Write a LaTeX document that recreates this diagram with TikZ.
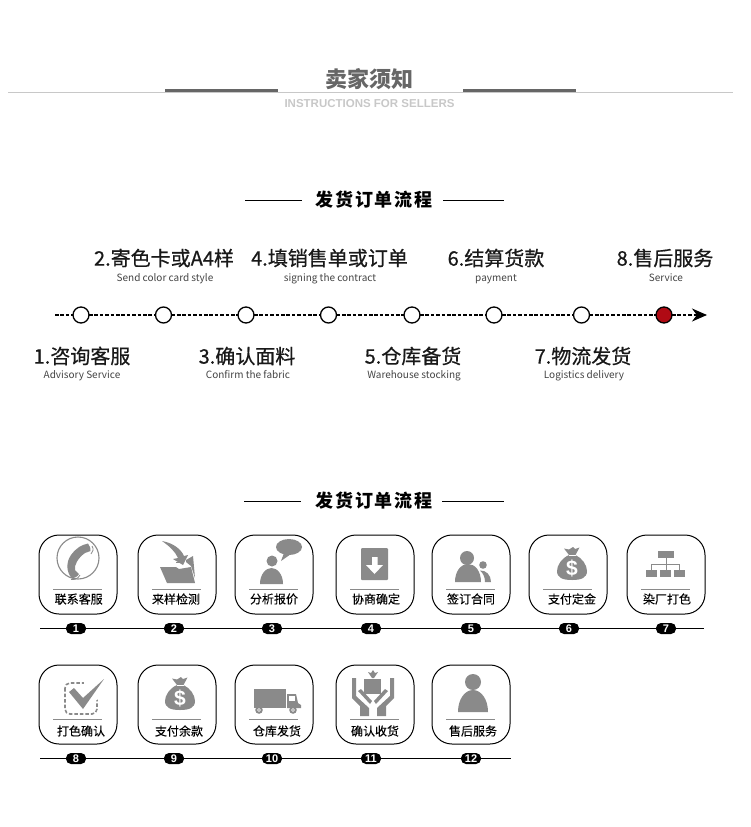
\documentclass[tikz,border=0pt]{standalone}
\usepackage{fontspec}
\usetikzlibrary{arrows.meta}
\setmainfont{Liberation Sans}
\newfontfamily\cjk{Noto Sans CJK SC}
\newfontfamily\cjkmed[FakeBold=0.6]{Noto Sans CJK SC}
\newfontfamily\cjklab[FakeBold=0.2]{Noto Sans CJK SC}
\newfontfamily\cjkhead[LetterSpace=11]{Noto Sans CJK SC}
\definecolor{icongrey}{HTML}{8A8A8A}
\definecolor{rulegrey}{HTML}{C8C8C8}
\definecolor{darkrule}{HTML}{666666}
\definecolor{subgrey}{HTML}{444444}
\definecolor{festred}{HTML}{B00A14}
\tikzset{
  x=1pt,y=-1pt,
  every node/.style={inner sep=0pt,outer sep=0pt},
  cardbox/.style={draw=black,line width=1pt,fill=white,rounded corners=20pt,minimum width=78pt,minimum height=79pt},
  cardlabel/.style={font=\cjklab\fontsize{12}{12}\selectfont,text=black},
  badge/.style={fill=black,rounded corners=5pt,minimum width=20pt,minimum height=11pt,text=white,font=\bfseries\fontsize{11}{11}\selectfont},
  cardsep/.style={draw=icongrey,line width=.7pt},
  rowline/.style={draw=black,line width=1pt},
  headtext/.style={font=\cjkhead\bfseries\fontsize{18}{18}\selectfont,text=black},
  headrule/.style={draw=black,line width=1pt},
  steptitle/.style={font=\cjkmed\fontsize{20}{20}\selectfont,text=black!90},
  stepsub/.style={font=\cjk\fontsize{10}{10}\selectfont,text=subgrey,text height=9pt,text depth=1pt},
  stepdot/.style={circle,draw=black,line width=1.3pt,fill=white,minimum size=16pt},
  dashline/.style={draw=black,line width=1.2pt,dash pattern=on 3.6pt off 1.8pt},
  ic/.style={fill=icongrey,draw=none},
  icl/.style={draw=icongrey,fill=none},
  dollar/.style={text=white,font=\bfseries\fontsize{21}{21}\selectfont},
}
\newcommand{\cardunit}[6]{% id left top textx dy label
  \node[cardbox] (c#1) at (#2+39,#3+39.5) {};
  \coordinate (sa#1) at (#2+14,#3+54);
  \coordinate (sb#1) at (#2+63,#3+54);
  \draw[cardsep] (sa#1) -- (sb#1);
  \node[cardlabel] (t#1) at (#4,#3+#5) {#6};
}
\newcommand{\moneybag}[3]{% name, centre x, top y
  \begin{scope}[shift={(#2,#3)}]
    \fill[ic] (-3,8) -- (-8,1.5) -- (-3,2.5) -- (1,0) -- (3,2) -- (7.5,0.5) -- (3.5,8)
      .. controls (10,11) and (15,18) .. (15,24)
      .. controls (15,31) and (9,33) .. (0,33)
      .. controls (-9,33) and (-15,31) .. (-15,24)
      .. controls (-15,18) and (-10,11) .. (-3,8) -- cycle;
    \draw[white,line width=.7pt] (-3.5,8) -- (3.5,8);
    \node[dollar] (#1) at (0,21) {\$};
  \end{scope}
}
\begin{document}
\begin{tikzpicture}
\useasboundingbox (0,0) rectangle (750,827);
\fill[white] (0,0) rectangle (750,827);

% header
\coordinate (hl) at (8,92);
\coordinate (hr) at (733,92);
\draw[rulegrey,line width=1pt] (hl) -- (hr);
\coordinate (ta) at (165,90.3);
\coordinate (tb) at (278,90.3);
\coordinate (tc) at (463,90.3);
\coordinate (td) at (576,90.3);
\draw[darkrule,line width=3.4pt] (ta) -- (tb);
\draw[darkrule,line width=3.4pt] (tc) -- (td);
\node[font=\cjk\bfseries\fontsize{22}{22}\selectfont,text=darkrule] (title) at (369.5,79) {卖家须知};
\node[font=\bfseries\fontsize{11.5}{11.5}\selectfont,text=rulegrey] (subtitle) at (369.5,103.6) {INSTRUCTIONS FOR SELLERS};

% section head 1
\node[headtext] (h1) at (374,200) {发货订单流程};
\coordinate (h1a) at (245,200);
\coordinate (h1b) at (302,200);
\coordinate (h1c) at (443,200);
\coordinate (h1d) at (504,200);
\draw[headrule] (h1a) -- (h1b);
\draw[headrule] (h1c) -- (h1d);

% timeline
\coordinate (tls) at (55,315);
\coordinate (tip) at (707,315);
\node[stepdot] (n1) at (81,315) {};
\node[stepdot] (n2) at (163.5,315) {};
\node[stepdot] (n3) at (246,315) {};
\node[stepdot] (n4) at (328.5,315) {};
\node[stepdot] (n5) at (412,315) {};
\node[stepdot] (n6) at (494,315) {};
\node[stepdot] (n7) at (581.5,315) {};
\node[stepdot,fill=festred] (n8) at (664,315) {};
\draw[dashline] (tls) -- (n1);
\draw[dashline] (n1) -- (n2);
\draw[dashline] (n2) -- (n3);
\draw[dashline] (n3) -- (n4);
\draw[dashline] (n4) -- (n5);
\draw[dashline] (n5) -- (n6);
\draw[dashline] (n6) -- (n7);
\draw[dashline] (n7) -- (n8);
\draw[dashline,-{Stealth[length=15pt,width=13pt,fill=black]}] (n8) -- (tip);

\node[steptitle] (s1) at (82,356) {1.咨询客服};
\node[stepsub] (u1) at (82,374) {Advisory Service};
\node[steptitle] (s2) at (164,258) {2.寄色卡或A4样};
\node[stepsub] (u2) at (165,277) {Send color card style};
\node[steptitle] (s3) at (247,356) {3.确认面料};
\node[stepsub] (u3) at (248,374) {Confirm the fabric};
\node[steptitle] (s4) at (329.5,258) {4.填销售单或订单};
\node[stepsub] (u4) at (330,277) {signing the contract};
\node[steptitle] (s5) at (413,356) {5.仓库备货};
\node[stepsub] (u5) at (414,374) {Warehouse stocking};
\node[steptitle] (s6) at (496,258) {6.结算货款};
\node[stepsub] (u6) at (496,277) {payment};
\node[steptitle] (s7) at (583,356) {7.物流发货};
\node[stepsub] (u7) at (584,374) {Logistics delivery};
\node[steptitle] (s8) at (665,258) {8.售后服务};
\node[stepsub] (u8) at (666,277) {Service};

% section head 2
\node[headtext] (h2) at (374,501) {发货订单流程};
\coordinate (h2a) at (244,501);
\coordinate (h2b) at (301,501);
\coordinate (h2c) at (442,501);
\coordinate (h2d) at (504,501);
\draw[headrule] (h2a) -- (h2b);
\draw[headrule] (h2c) -- (h2d);

% cards row 1
\cardunit{a}{39}{535}{78.7}{64}{联系客服}
\cardunit{b}{138}{535}{176}{64}{来样检测}
\cardunit{d}{235}{535}{274}{64}{分析报价}
\cardunit{e}{336}{535}{376}{64}{协商确定}
\cardunit{f}{432}{535}{471}{64}{签订合同}
\cardunit{g}{529}{535}{572}{64}{支付定金}
\cardunit{h}{627}{535}{667}{64}{染厂打色}
% cards row 2
\cardunit{i}{39}{665}{81}{66}{打色确认}
\cardunit{j}{138}{665}{179}{66}{支付余款}
\cardunit{k}{235}{665}{277}{66}{仓库发货}
\cardunit{l}{336}{665}{375}{66}{确认收货}
\cardunit{m}{432}{665}{473}{66}{售后服务}

% rows with badges
\coordinate (r1s) at (40,628.5);
\coordinate (r1e) at (704,628.5);
\node[badge] (b1) at (76,628.5) {1};
\node[badge] (b2) at (174,628.5) {2};
\node[badge] (b3) at (272,628.5) {3};
\node[badge] (b4) at (371,628.5) {4};
\node[badge] (b5) at (471,628.5) {5};
\node[badge] (b6) at (569,628.5) {6};
\node[badge] (b7) at (666,628.5) {7};
\draw[rowline] (r1s) -- (b1);
\draw[rowline] (b1) -- (b2);
\draw[rowline] (b2) -- (b3);
\draw[rowline] (b3) -- (b4);
\draw[rowline] (b4) -- (b5);
\draw[rowline] (b5) -- (b6);
\draw[rowline] (b6) -- (b7);
\draw[rowline] (b7) -- (r1e);
\coordinate (r2s) at (40,758.5);
\coordinate (r2e) at (511,758.5);
\node[badge] (b8) at (76,758.5) {8};
\node[badge] (b9) at (174,758.5) {9};
\node[badge] (b10) at (272,758.5) {10};
\node[badge] (b11) at (371,758.5) {11};
\node[badge] (b12) at (471,758.5) {12};
\draw[rowline] (r2s) -- (b8);
\draw[rowline] (b8) -- (b9);
\draw[rowline] (b9) -- (b10);
\draw[rowline] (b10) -- (b11);
\draw[rowline] (b11) -- (b12);
\draw[rowline] (b12) -- (r2e);

% icon 1 phone
\draw[icl,line width=1.1pt] (78,558) circle[radius=21pt];
\fill[ic] (83,545) -- (88,543.5) .. controls (90,546) and (91,549) .. (90.5,551) -- (85,553)
  .. controls (78,558) and (74,565) .. (75,570) -- (79,574) .. controls (77,577) and (75,578) .. (72,578.5)
  .. controls (66,572) and (66,562) .. (71,555) .. controls (74,551) and (78,547) .. (83,545) -- cycle;
\draw[icl,line width=.8pt] (92,546) .. controls (94,549) and (93,552) .. (91,554);
\draw[icl,line width=.8pt] (80,575) .. controls (78,579) and (74,580) .. (71,579.5);

% icon 2 arrow into folder
\draw[icl,line width=1pt] (176,562) -- (182,562);
\fill[ic] (186,560) -- (193,556) -- (195,578) -- (191,566) -- (186,562) -- cycle;
\fill[ic] (160,567) -- (176,567) -- (179,569) -- (191,567) -- (195,583) -- (167,583) -- cycle;
\fill[ic] (162,541) .. controls (173,543) and (181,549) .. (184,556) -- (188,555) -- (183,565) -- (173,559) -- (178,558)
  .. controls (175,551) and (169,546) .. (162,541) -- cycle;

% icon 3 person and speech
\fill[ic] (272,561) circle[radius=5.5pt];
\fill[ic] (260,584) .. controls (260,574) and (266,568) .. (271.5,568) .. controls (277,568) and (283,574) .. (283,584) -- cycle;
\fill[ic] (289,547) ellipse[x radius=13pt,y radius=8pt];
\fill[ic] (284,553) -- (281,561) -- (291,554) -- cycle;

% icon 4 download box
\fill[ic,rounded corners=1pt] (361,548) rectangle (388,580);
\fill[white] (372,557) -- (377.5,557) -- (377.5,565) -- (383,565) -- (374.5,574) -- (366,565) -- (372,565) -- cycle;

% icon 5 two people
\fill[ic] (467,558) circle[radius=7pt];
\fill[ic] (455,582) .. controls (455,571) and (461,564) .. (468,564) .. controls (475,564) and (481,571) .. (481,582) -- cycle;
\fill[ic] (483,565) circle[radius=3.8pt];
\fill[ic] (480,570.5) .. controls (486,570) and (491,575) .. (491,582) -- (485,582) .. controls (485,577) and (483,573) .. (480,570.5) -- cycle;

% icon 6 bag
\moneybag{da}{572}{547}

% icon 7 org chart
\fill[ic] (658,551) rectangle (674,557.5);
\fill[ic] (646,570) rectangle (657,577);
\fill[ic] (660,570) rectangle (671,577);
\fill[ic] (674,570) rectangle (685,577);
\draw[icl,line width=.7pt] (666,557.5) -- (666,570);
\draw[icl,line width=.7pt] (651.5,570) -- (651.5,564.5) -- (679.5,564.5) -- (679.5,570);

% icon 8 dashed check
\draw[icongrey,line width=1.6pt,dash pattern=on 3.5pt off 2pt,rounded corners=5pt] (65,683) rectangle (97,714);
\fill[white] (84,680) -- (106,680) -- (100,698) -- (84,708) -- cycle;
\fill[ic] (69,692) -- (74,688) -- (83,698) -- (104,679) -- (83,709) -- cycle;

% icon 9 bag
\moneybag{db}{180}{677}

% icon 10 truck
\fill[ic] (254,689) rectangle (286,708);
\fill[ic] (287,694) -- (296,694) -- (298,703) -- (301,705) -- (301,708) -- (287,708) -- cycle;
\fill[white] (289,696) rectangle (295,701);
\fill[ic] (259,710) circle[radius=3.8pt];
\fill[ic] (293,710) circle[radius=3.8pt];
\draw[white,line width=.6pt] (259,710) circle[radius=1.5pt];
\draw[white,line width=.6pt] (293,710) circle[radius=1.5pt];

% icon 11 hands and gift
\fill[ic] (364,679) rectangle (381,694);
\fill[ic] (372,678) -- (368,672) -- (371,673) -- (373,670) -- (375,673) -- (378,672) -- (374,678) -- cycle;
\fill[ic] (352,678) -- (356,678) -- (356,696) -- (369,708) -- (369,716) -- (360,716) -- (360,706) -- (352,698) -- cycle;
\fill[ic] (394,678) -- (390,678) -- (390,696) -- (377,708) -- (377,716) -- (386,716) -- (386,706) -- (394,698) -- cycle;
\fill[ic] (358,691) -- (361,689) -- (372,701) -- (370,704) -- cycle;
\fill[ic] (388,691) -- (385,689) -- (374,701) -- (376,704) -- cycle;

% icon 12 person
\fill[ic] (473,682) circle[radius=8pt];
\fill[ic] (458,712) .. controls (458,699) and (465,690) .. (473,690) .. controls (481,690) and (488,699) .. (488,712) -- cycle;
\end{tikzpicture}
\end{document}
